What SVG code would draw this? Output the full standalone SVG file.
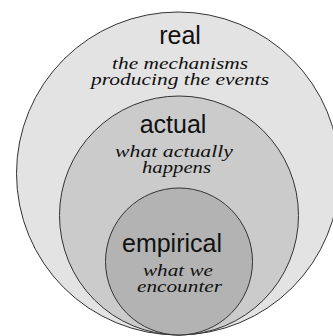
<svg xmlns="http://www.w3.org/2000/svg" width="333" height="336" viewBox="0 0 333 336">
<style>
.ring{stroke:#333;stroke-width:1}
.t{font-family:"Liberation Sans",Arial,sans-serif;font-size:25px;fill:#111;text-anchor:middle}
.s{font-family:"Liberation Serif","DejaVu Serif",serif;font-style:italic;font-size:17px;fill:#111;text-anchor:middle}
</style>
<rect width="333" height="336" fill="#fff"/>
<g id="real">
<circle class="ring" cx="178" cy="173.5" r="161.5" fill="#e3e3e3"/>
<text class="t" x="180" y="44">real</text>
<text class="s" x="180" y="69" textLength="136" lengthAdjust="spacingAndGlyphs">the mechanisms</text>
<text class="s" x="180" y="85" textLength="178" lengthAdjust="spacingAndGlyphs">producing the events</text>
</g>
<g id="actual">
<circle class="ring" cx="179" cy="215.5" r="119.5" fill="#cbcbcb"/>
<text class="t" x="173" y="133">actual</text>
<text class="s" x="174" y="157" textLength="118" lengthAdjust="spacingAndGlyphs">what actually</text>
<text class="s" x="176.5" y="173" textLength="69" lengthAdjust="spacingAndGlyphs">happens</text>
</g>
<g id="empirical">
<circle class="ring" cx="179" cy="261.5" r="73.5" fill="#b3b3b3"/>
<text class="t" x="172" y="252">empirical</text>
<text class="s" x="178" y="276" textLength="70" lengthAdjust="spacingAndGlyphs">what we</text>
<text class="s" x="179.5" y="292" textLength="85" lengthAdjust="spacingAndGlyphs">encounter</text>
</g>
<g id="connectors"/>
</svg>
